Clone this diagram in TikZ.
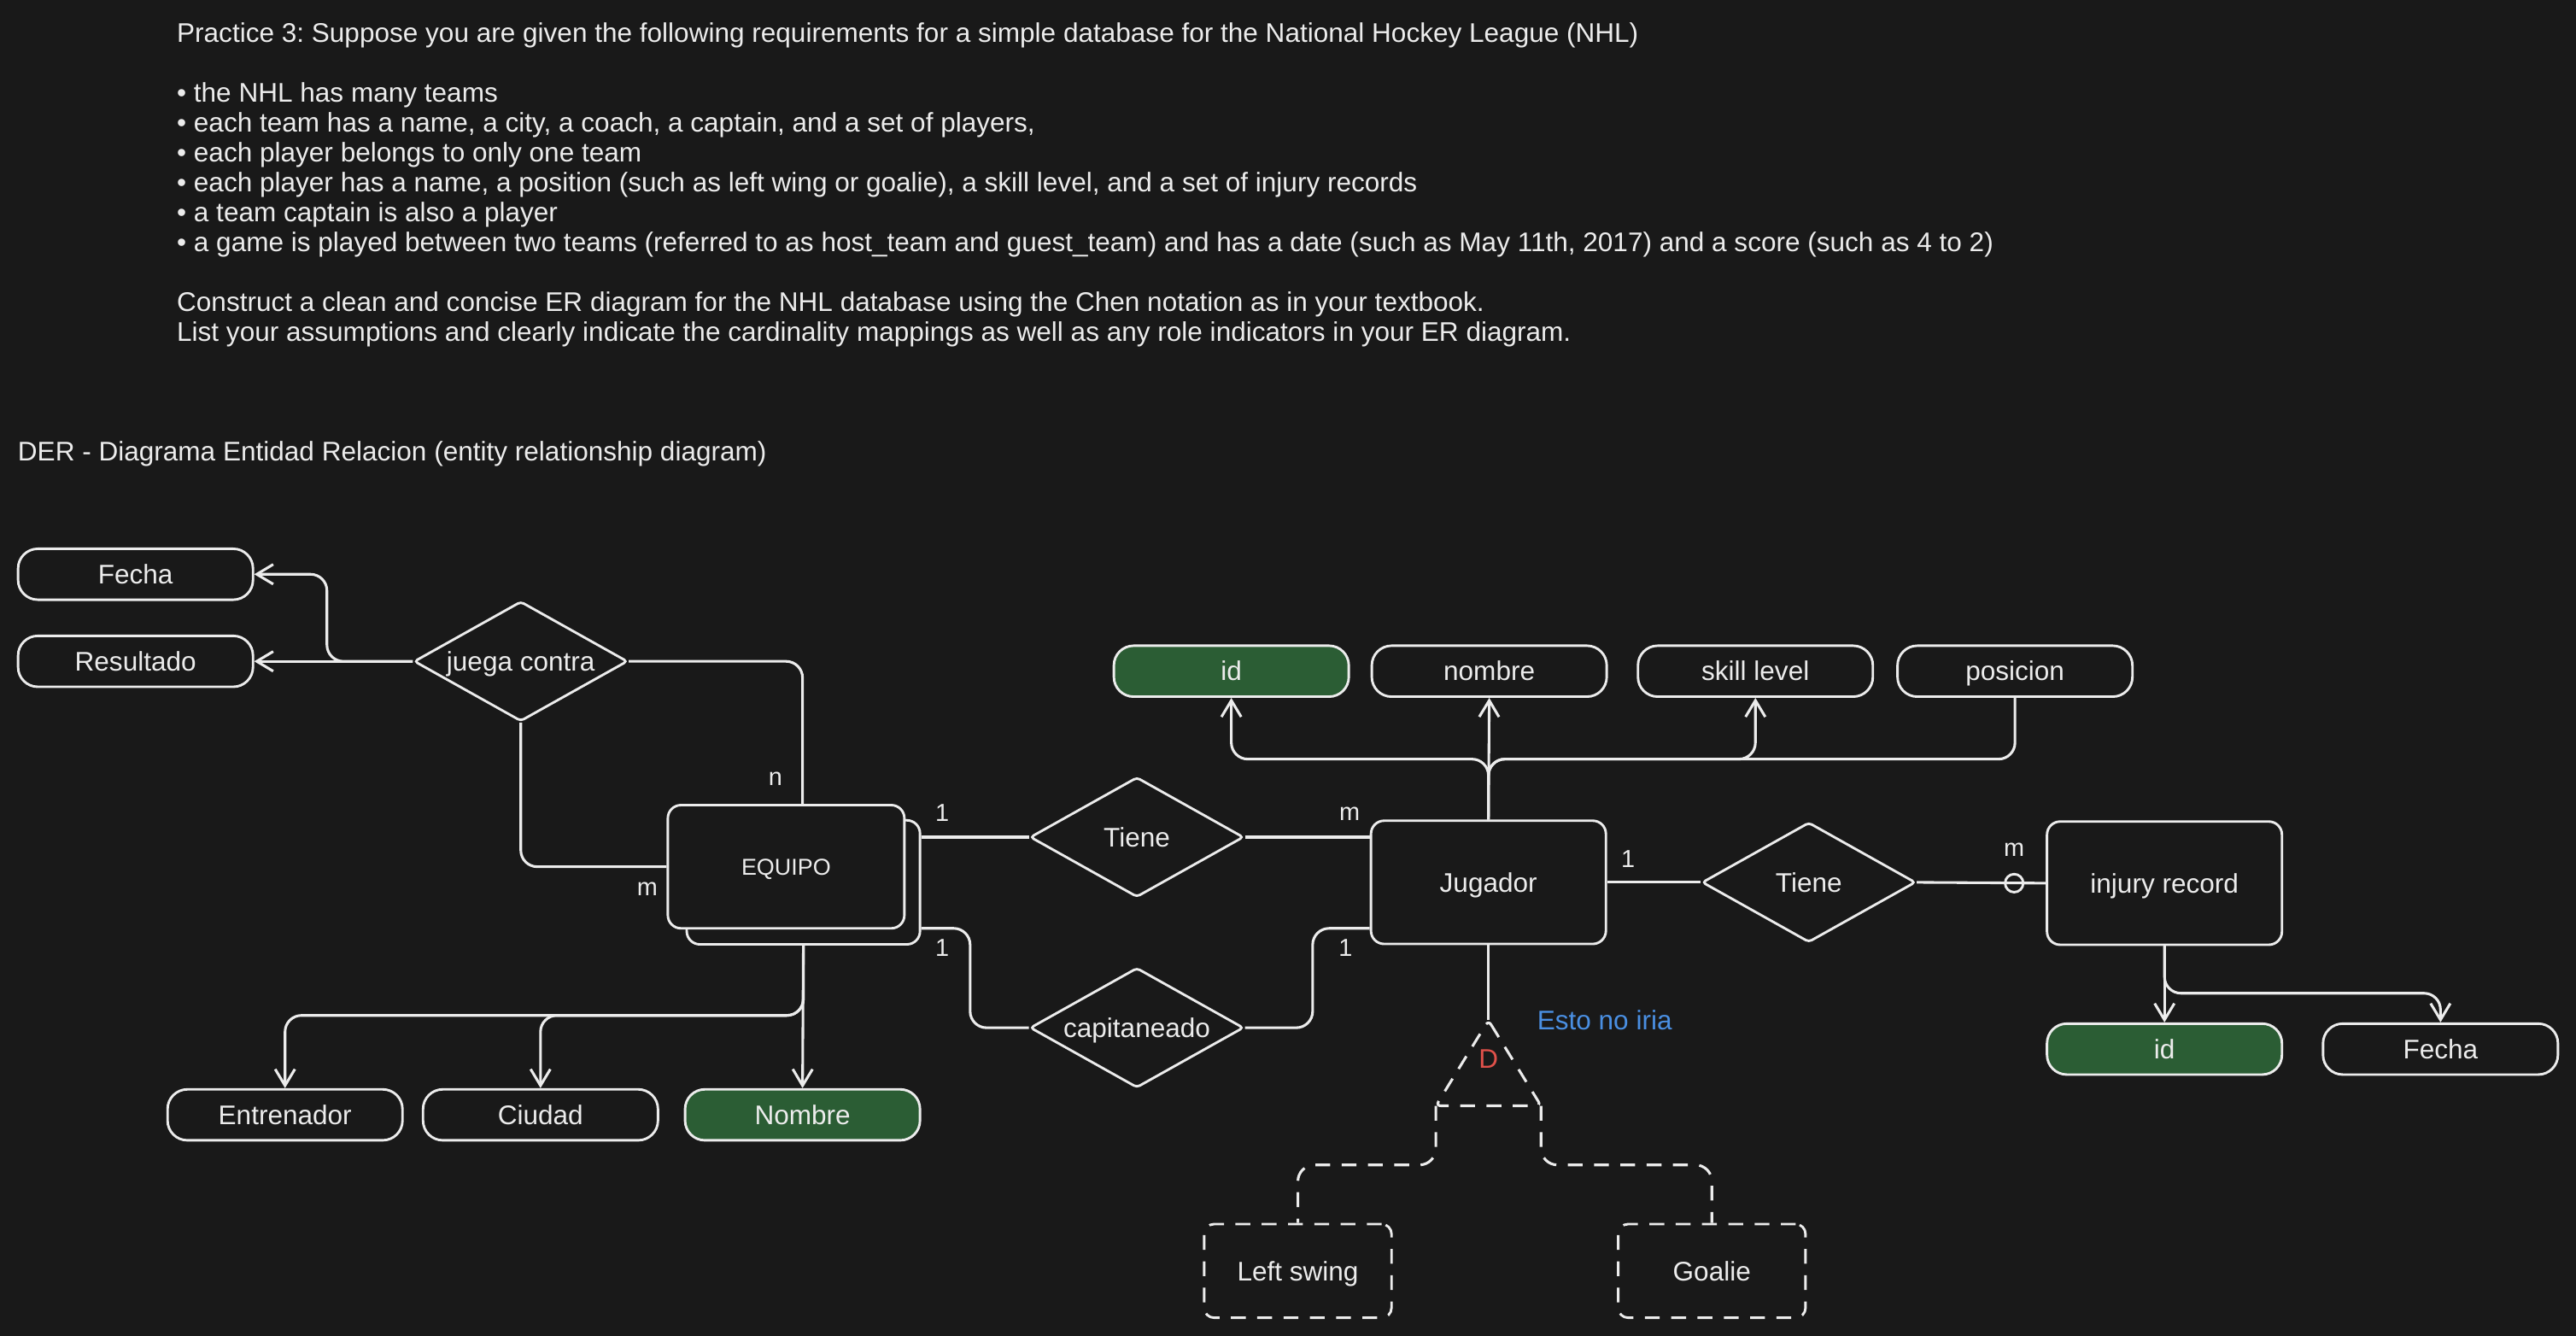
\documentclass[tikz,border=0pt]{standalone}
\usepackage{fontspec}
\setmainfont{Liberation Sans}
\usetikzlibrary{shapes.geometric,arrows.meta,calc}
\definecolor{bg}{HTML}{191919}
\definecolor{fg}{HTML}{ECECEC}
\definecolor{keygreen}{HTML}{2B5D34}
\definecolor{noteblue}{HTML}{4A8FE2}
\definecolor{dred}{HTML}{E0514A}
\frenchspacing
\begin{document}
\begin{tikzpicture}[x=1pt,y=-1pt,
  every node/.style={text=fg, font=\fontsize{16.4}{18}\selectfont},
  boxtext/.style={text height=11.7pt, text depth=0pt},
  attr/.style={boxtext, draw=fg, fill=bg, line width=1.5pt, rounded corners=12pt, minimum width=143pt, minimum height=31pt, inner sep=0pt},
  keyattr/.style={attr, fill=keygreen},
  ent/.style={boxtext, draw=fg, fill=bg, line width=1.5pt, rounded corners=8pt, minimum width=143pt, minimum height=75pt, inner sep=0pt},
  rel/.style={boxtext, diamond, aspect=1.78, draw=fg, fill=bg, line width=1.5pt, minimum width=130pt, minimum height=73pt, inner sep=0pt, rounded corners=2pt},
  conn/.style={draw=fg, line width=1.6pt, rounded corners=10pt},
  arr/.style={conn, -{Straight Barb[length=10pt,width=12pt]}},
  dconn/.style={conn, dash pattern=on 9pt off 7pt},
  sub/.style={boxtext, draw=fg, line width=1.5pt, dash pattern=on 9pt off 7pt, rounded corners=6pt, minimum width=114pt, minimum height=57pt},
  card/.style={font=\fontsize{15}{18}\selectfont, inner sep=0pt},
  txt/.style={anchor=base west, inner sep=0pt}
]
\fill[bg] (0,0) rectangle (1568,813);
\useasboundingbox (0,0) rectangle (1568,813);

% header text
\node[txt] (t1) at (107.5,25.6) {Practice 3: Suppose you are given the following requirements for a simple database for the National Hockey League (NHL)};
\node[txt] (t2) at (107.5,62.0) {• the NHL has many teams};
\node[txt] (t3) at (107.5,80.2) {• each team has a name, a city, a coach, a captain, and a set of players,};
\node[txt] (t4) at (107.5,98.4) {• each player belongs to only one team};
\node[txt] (t5) at (107.5,116.6) {• each player has a name, a position (such as left wing or goalie), a skill level, and a set of injury records};
\node[txt] (t6) at (107.5,134.8) {• a team captain is also a player};
\node[txt] (t7) at (107.5,153.0) {• a game is played between two teams (referred to as host\_team and guest\_team) and has a date (such as May 11th, 2017) and a score (such as 4 to 2)};
\node[txt] (t8) at (107.5,189.4) {Construct a clean and concise ER diagram for the NHL database using the Chen notation as in your textbook.};
\node[txt] (t9) at (107.5,207.6) {List your assumptions and clearly indicate the cardinality mappings as well as any role indicators in your ER diagram.};
\node[txt] (der) at (10.7,280.7) {DER - Diagrama Entidad Relacion (entity relationship diagram)};

% nodes
\node[attr] (fecha) at (82.5,349.5) {Fecha};
\node[attr] (resultado) at (82.5,402.5) {Resultado};
\node[rel] (juega) at (317,402.5) {juega contra};
\node[ent, minimum width=142pt, minimum height=75.5pt] (equipoback) at (489,537) {};
\node[ent, minimum width=144pt, font=\fontsize{14}{16}\selectfont, text height=10pt] (equipo) at (478.5,527.5) {EQUIPO};
\node[rel] (tiene1) at (692,509.5) {Tiene};
\node[rel] (capit) at (692,625.5) {capitaneado};
\node[ent] (jugador) at (906,537) {Jugador};
\node[keyattr] (pid) at (749.5,408.5) {id};
\node[attr] (pnombre) at (906.5,408.5) {nombre};
\node[attr] (skill) at (1068.5,408.5) {skill level};
\node[attr] (posicion) at (1226.5,408.5) {posicion};
\node[rel] (tiene2) at (1101,537) {Tiene};
\node[ent] (injury) at (1317.5,537.5) {injury record};
\node[keyattr] (iid) at (1317.5,638.5) {id};
\node[attr] (ifecha) at (1485.5,638.5) {Fecha};
\node[attr] (entrenador) at (173.5,678.5) {Entrenador};
\node[attr] (ciudad) at (329,678.5) {Ciudad};
\node[keyattr] (nombre) at (488.5,678.5) {Nombre};
\node[sub] (leftswing) at (790,773.5) {Left swing};
\node[sub] (goalie) at (1042,773.5) {Goalie};

% connectors
\draw[arr] (juega.west) -- (199,402.5) -- (199,349.5) -- (fecha.east);
\draw[arr] (juega.west) -- (resultado.east);
\draw[conn] (juega.east) -| ($(equipo.north)+(10,0)$);
\draw[conn] (juega.south) |- (equipo.west);
\draw[conn] (tiene1.west -| equipoback.east) -- (tiene1.west);
\draw[conn] (tiene1.east) -- (tiene1.east -| jugador.west);
\draw[conn] ($(equipoback.east)+(0,28)$) -- (590.5,565) -- (590.5,625.5) -- (capit.west);
\draw[conn] (capit.east) -- (799,625.5) -- (799,565) -- ($(jugador.west)+(0,28)$);
\draw[arr] (jugador.north) -- (pnombre.south);
\draw[arr] (jugador.north) -- (906,462) -- (749.5,462) -- (pid.south);
\draw[arr] (jugador.north) -- (906,462) -- (1068.5,462) -- (skill.south);
\draw[conn] (jugador.north) -- (906,462) -- (1226.5,462) -- (posicion.south);
\draw[conn] (jugador.east) -- (tiene2.west);
\draw[conn] (tiene2.east) -- (injury.west);
\node[circle, draw=fg, line width=1.5pt, minimum size=11pt, inner sep=0pt] (optc) at (1226,537.5) {};
\draw[arr] (injury.south) -- (iid.north);
\draw[arr] (injury.south) -- (1317.5,604.5) -- (1485.5,604.5) -- (ifecha.north);
\draw[arr] (equipoback.south) -- (nombre.north);
\draw[arr] (equipoback.south) -- (489,618) -- (173.5,618) -- (entrenador.north);
\draw[arr] (equipoback.south) -- (489,618) -- (329,618) -- (ciudad.north);

% specialization
\coordinate (apex) at (906,621);
\coordinate (bl) at (874,673);
\coordinate (br) at (938,673);
\draw[conn] (jugador.south) -- (apex);
\draw[dconn, rounded corners=3pt] (apex) -- (br) -- (bl) -- cycle;
\node[text=dred] (dlab) at (906,644.5) {D};
\node[anchor=west, text=noteblue, inner sep=0pt] (note) at (935.5,621) {Esto no iria};
\draw[dconn] (bl) -- (874,709) -- (790,709) -- (leftswing.north);
\draw[dconn] (br) -- (938,709) -- (1042,709) -- (goalie.north);

% cardinalities
\node[card] (cn) at (472,474) {n};
\node[card] (cm1) at (394,541) {m};
\node[card] (c1a) at (573.5,494.5) {1};
\node[card] (cm2) at (821.5,495.5) {m};
\node[card] (c1b) at (573.5,577) {1};
\node[card] (c1c) at (819,577) {1};
\node[card] (c1d) at (991,523) {1};
\node[card] (cm3) at (1226,517) {m};
\end{tikzpicture}
\end{document}
